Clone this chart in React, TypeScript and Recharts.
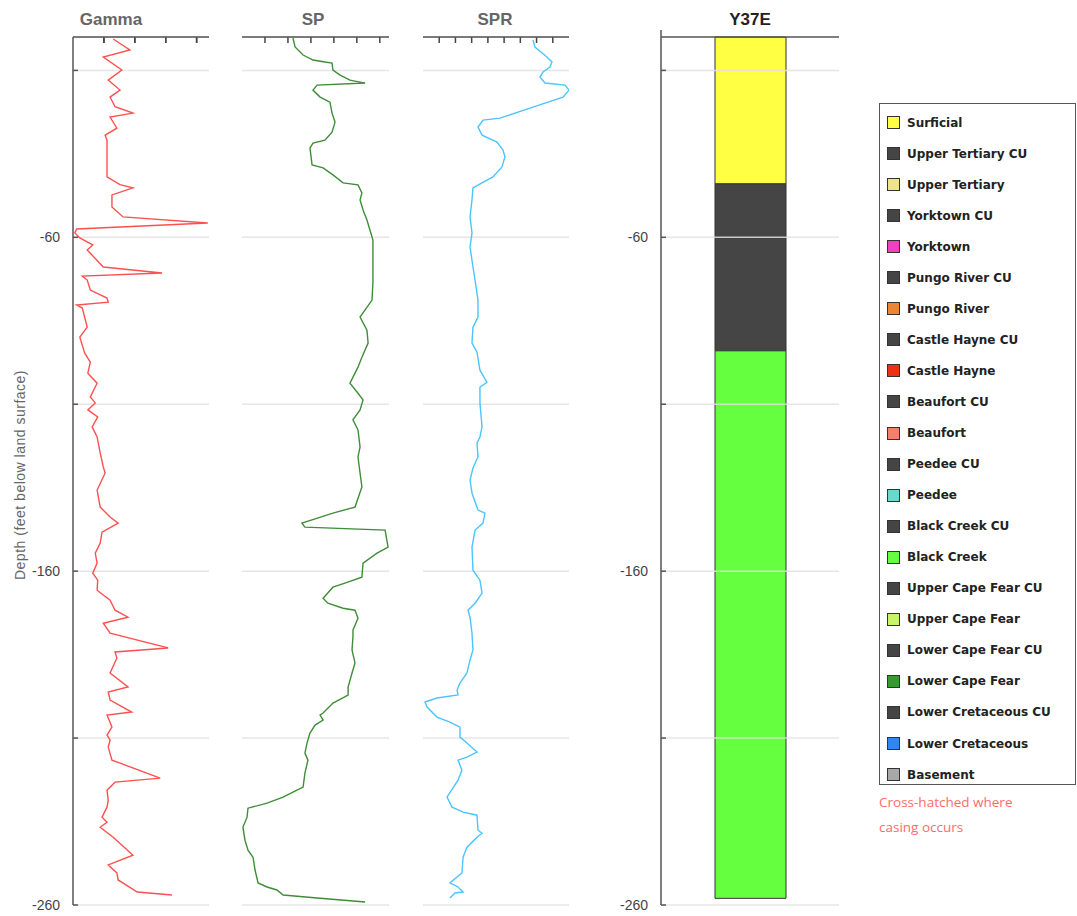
import { LineChart, Line, XAxis, YAxis, CartesianGrid, BarChart, Bar, ReferenceLine } from 'recharts';

const depthTicks = [-10, -60, -110, -160, -210, -260];
const labeledDepths = [-60, -160, -260];

const gammaDepths = [
  -0.6, -3.9, -6.0, -9.9, -12.9, -15.9, -18.0, -20.9, -22.8, -24.0, -27.3, -29.4, -30.9, -41.9, -44.2, -45.2,
  -47.3, -50.9, -53.9, -55.7, -57.5, -58.7, -60.2, -62.3, -63.8, -68.9, -70.7, -71.6, -72.8, -75.8, -78.2, -79.4,
  -80.3, -81.2, -86.9, -89.9, -94.7, -97.4, -100.7, -103.7, -107.8, -109.6, -111.7, -113.8, -116.8, -119.8, -124.6,
  -128.8, -130.6, -135.7, -140.8, -143.8, -145.6, -148.3, -151.6, -154.6, -157.6, -160.6, -162.7, -165.7, -168.7,
  -171.7, -173.8, -175.6, -178.6, -183.0, -184.2, -186.0, -190.5, -194.7, -196.2, -198.6, -202.2, -203.1, -206.7,
  -209.1, -210.6, -212.7, -216.6, -222.0, -223.2, -225.6, -228.6, -230.7, -233.7, -235.2, -236.7, -239.7, -245.1,
  -248.0, -250.4, -252.5, -256.1, -257.0,
];
const gammaValues = [
  65, 92, 49, 79, 57, 76, 60, 68, 97, 60, 71, 52, 55, 55, 76, 97,
  63, 63, 81, 218, 6, 3, 11, 32, 23, 49, 144, 15, 23, 28, 55, 57,
  6, 15, 23, 11, 19, 28, 24, 39, 28, 36, 24, 40, 31, 39, 44,
  49, 52, 39, 44, 60, 73, 47, 44, 36, 39, 32, 40, 39, 60,
  68, 89, 49, 60, 154, 68, 71, 60, 89, 57, 60, 95, 55, 63,
  55, 60, 57, 63, 141, 68, 55, 57, 55, 47, 55, 44, 65, 97,
  57, 71, 73, 104, 160,
];

const spDepths = [
  -0.3, -3.0, -5.4, -6.9, -7.5, -7.8, -9.9, -11.4, -12.9, -13.8, -14.4, -15.9, -18.0, -19.5, -22.8, -25.5,
  -28.5, -30.9, -31.8, -33.3, -38.3, -39.2, -41.3, -43.7, -44.3, -46.7, -48.8, -51.8, -54.8, -57.8, -60.8, -66.8,
  -73.7, -78.8, -83.9, -87.8, -91.7, -95.9, -98.9, -103.7, -106.7, -108.7, -111.7, -114.7, -117.7, -122.8, -125.8,
  -130.6, -134.8, -140.8, -142.6, -145.6, -146.8, -147.7, -152.8, -154.6, -157.6, -161.8, -163.6, -164.8, -168.1,
  -169.6, -171.1, -171.7, -174.1, -177.7, -179.7, -183.6, -187.5, -190.5, -194.7, -197.1, -199.5, -202.5, -203.1,
  -204.6, -206.1, -208.5, -211.5, -214.5, -216.6, -220.5, -224.7, -226.2, -227.7, -229.5, -231.0, -233.7, -236.7,
  -240.6, -243.6, -245.7, -249.6, -253.4, -254.6, -255.5, -257.0, -257.9, -259.1,
];
const spValues = [
  22.2, 23.1, 26.6, 30.9, 36.1, 39.2, 39.6, 42.7, 47.0, 53.6, 32.7, 30.9, 34.0, 38.3, 39.2, 40.5,
  39.2, 36.1, 30.9, 29.6, 30.5, 35.3, 39.6, 44.0, 50.5, 52.2, 51.4, 52.7, 54.4, 55.7, 57.0, 57.0,
  57.0, 56.6, 51.4, 54.4, 54.9, 52.2, 50.5, 47.0, 50.5, 52.7, 51.4, 48.3, 50.5, 51.4, 50.5,
  51.4, 52.2, 49.2, 39.6, 26.1, 27.4, 62.3, 63.6, 58.8, 52.7, 52.2, 44.8, 39.6, 35.3,
  37.4, 44.0, 49.2, 50.5, 48.3, 48.3, 47.9, 49.2, 47.9, 46.2, 46.2, 39.6, 35.3, 34.0,
  35.3, 31.8, 29.6, 28.3, 27.4, 28.7, 27.4, 26.6, 22.2, 17.9, 10.9, 2.6, 2.2, 0.4,
  1.3, 2.6, 4.8, 5.7, 7.0, 10.9, 15.2, 17.9, 32.7, 53.6,
];

const sprDepths = [
  -0.9, -3.0, -6.0, -7.5, -9.0, -10.5, -12.0, -13.8, -14.4, -15.9, -18.0, -21.0, -24.3, -24.9, -27.0, -29.4,
  -31.5, -33.9, -35.9, -38.9, -41.9, -43.7, -45.2, -48.8, -53.9, -58.7, -62.9, -68.9, -72.8, -78.8, -83.9, -86.9,
  -91.7, -94.4, -99.8, -103.4, -104.9, -109.6, -116.8, -119.8, -121.6, -125.8, -129.1, -132.7, -136.6, -141.7,
  -142.6, -145.6, -147.7, -152.8, -159.7, -162.7, -166.6, -169.6, -171.7, -173.8, -178.6, -183.6, -186.6, -190.5,
  -193.5, -195.6, -197.1, -198.0, -199.2, -200.7, -203.7, -205.2, -206.7, -209.7, -211.5, -214.2, -215.7, -216.6,
  -219.6, -222.6, -227.7, -230.7, -232.2, -233.1, -237.6, -238.5, -239.7, -242.7, -245.7, -250.4, -253.4, -254.6,
  -256.1, -256.4, -257.9,
];
const sprValues = [
  67.8, 69.0, 76.4, 79.5, 78.3, 74.0, 72.1, 75.2, 87.5, 90.0, 86.3, 67.8, 47.5, 37.0, 33.9, 36.4,
  45.6, 49.3, 50.5, 48.7, 43.1, 36.4, 30.8, 30.2, 29.0, 30.2, 29.0, 30.8, 32.1, 33.9, 33.9, 30.8,
  30.2, 33.3, 35.1, 39.4, 35.1, 35.1, 36.4, 35.1, 33.3, 33.9, 30.8, 29.0, 30.2, 33.9,
  38.2, 37.0, 32.1, 30.2, 30.8, 35.1, 36.4, 32.1, 27.7, 29.0, 30.2, 30.8, 29.0, 27.1,
  22.8, 21.0, 21.6, 8.6, 1.2, 2.5, 8.6, 16.6, 22.8, 22.8, 27.1, 33.3, 27.1, 21.6,
  24.0, 21.6, 14.8, 17.9, 24.7, 33.3, 33.9, 36.4, 33.3, 27.1, 24.7, 24.0, 16.6, 21.6,
  24.7, 19.7, 16.6,
];

const gammaTicks = [50, 100, 150, 200];
const spTicks = [10, 20, 30, 40, 50, 60];
const sprTicks = [10, 20, 30, 40, 50, 60, 70, 80];

const unitNames = ['Surficial', 'Black Creek CU', 'Black Creek'];
const unitTops = [0, -44, -94];
const unitBottoms = [-44, -94, -258];

const legendNames = [
  'Surficial', 'Upper Tertiary CU', 'Upper Tertiary', 'Yorktown CU', 'Yorktown', 'Pungo River CU', 'Pungo River',
  'Castle Hayne CU', 'Castle Hayne', 'Beaufort CU', 'Beaufort', 'Peedee CU', 'Peedee', 'Black Creek CU', 'Black Creek',
  'Upper Cape Fear CU', 'Upper Cape Fear', 'Lower Cape Fear CU', 'Lower Cape Fear', 'Lower Cretaceous CU',
  'Lower Cretaceous', 'Basement',
];

const CU = '#454545';
const unitColors: Record<string, string> = {
  Surficial: '#ffff44',
  'Upper Tertiary': '#eee58a',
  Yorktown: '#f23fc0',
  'Pungo River': '#ee8530',
  'Castle Hayne': '#ee3014',
  Beaufort: '#f2806c',
  Peedee: '#6ad8cc',
  'Black Creek': '#66ff40',
  'Upper Cape Fear': '#c8f568',
  'Lower Cape Fear': '#379a30',
  'Lower Cretaceous': '#3386f2',
  Basement: '#a8a8a8',
};
const colorOf = (n: string) => (n.endsWith(' CU') ? CU : unitColors[n]);

const AXIS = '#555';
const SANS = "'Liberation Sans', Arial, sans-serif";
// top-axis tick marks hang this many feet into the plot (about 6px)
const TICK_FT = 1.8;

const toRows = (depths: number[], values: number[]) => depths.map((depth, i) => ({ depth, value: values[i] }));
const gammaData = toRows(gammaDepths, gammaValues);
const spData = toRows(spDepths, spValues);
const sprData = toRows(sprDepths, sprValues);

const columnRow: Record<string, string | number> = { name: 'Y37E' };
unitNames.forEach((n, i) => {
  columnRow[n] = unitBottoms[i] - unitTops[i];
});
const columnData = [columnRow];

// inner tick on the depth axis, labels only on every other line;
// the 0 tick is drawn as the little upward stub at the top corner
function DepthTick(props: any) {
  const { x, y, payload, showLabel } = props;
  if (payload.value === 0) {
    return <line x1={x} x2={x} y1={y} y2={y - 7} stroke={AXIS} strokeWidth={1.5} />;
  }
  return (
    <g>
      <line x1={x} x2={x + 5} y1={y} y2={y} stroke={AXIS} strokeWidth={1.5} />
      {showLabel && labeledDepths.includes(payload.value) ? (
        <text x={x - 13} y={y + 5} textAnchor="end" fontSize={14} fill="#444" fontFamily={SANS}>
          {payload.value}
        </text>
      ) : null}
    </g>
  );
}

function CornerTick(props: any) {
  const { x, y } = props;
  return <line x1={x} x2={x} y1={y} y2={y - 6} stroke={AXIS} strokeWidth={1.5} />;
}

// extra layer that only carries the gamma top-axis tick marks
function GammaTickLayer() {
  return (
    <div style={{ position: 'absolute', left: 0, top: 0 }}>
      <LineChart width={215} height={916} data={gammaData} layout="vertical" margin={{ top: 37, right: 6, bottom: 11, left: 73 }}>
        <XAxis type="number" domain={[0, 220]} hide allowDataOverflow />
        <YAxis type="number" dataKey="depth" domain={[-260, 0]} reversed hide allowDataOverflow />
        {gammaTicks.map((t) => (
          <ReferenceLine key={t} segment={[{ x: t, y: 0 }, { x: t, y: -TICK_FT }]} stroke="#444" strokeWidth={1.5} />
        ))}
      </LineChart>
    </div>
  );
}

type PanelProps = {
  data: { depth: number; value: number }[];
  color: string;
  domain: [number, number];
  ticks: number[];
  left: number;
  width: number;
  marginLeft: number;
  yWidth: number;
  showLabels: boolean;
};

function LogPanel({ data, color, domain, ticks, left, width, marginLeft, yWidth, showLabels }: PanelProps) {
  return (
    <div style={{ position: 'absolute', left, top: 0 }}>
      <LineChart width={width} height={916} data={data} layout="vertical" margin={{ top: 36, right: 6, bottom: 11, left: marginLeft }}>
        <CartesianGrid vertical={false} stroke="#e6e6e6" strokeWidth={1.5} />
        <XAxis
          type="number"
          orientation="top"
          domain={domain}
          ticks={ticks}
          height={1}
          tick={false}
          tickLine={false}
          allowDataOverflow
          axisLine={{ stroke: AXIS, strokeWidth: 1.5 }}
        />
        <YAxis
          type="number"
          dataKey="depth"
          domain={[-260, 0]}
          reversed
          ticks={depthTicks}
          interval={0}
          width={yWidth}
          tickSize={0}
          tickMargin={0}
          tickLine={false}
          tick={<DepthTick showLabel={showLabels} />}
          axisLine={{ stroke: AXIS, strokeWidth: 1.5 }}
          allowDataOverflow
        />
        {ticks.map((t) => (
          <ReferenceLine
            key={t}
            segment={[{ x: t, y: 0 }, { x: t, y: -TICK_FT }]}
            stroke="#444"
            strokeWidth={1.5}
          />
        ))}
        <Line type="linear" dataKey="value" stroke={color} strokeWidth={1.4} dot={false} isAnimationActive={false} />
      </LineChart>
    </div>
  );
}

function Title({ text, cx, color }: { text: string; cx: number; color: string }) {
  return (
    <div
      style={{
        position: 'absolute', left: cx - 60, top: 10, width: 120, lineHeight: '20px', textAlign: 'center',
        fontFamily: SANS, fontWeight: 'bold', fontSize: 17, color,
      }}
    >
      {text}
    </div>
  );
}

export default function App() {
  return (
    <div style={{ position: 'absolute', left: 0, top: 0, width: 1077, height: 916, background: '#fff', overflow: 'hidden' }}>
      <GammaTickLayer />

      <Title text="Gamma" cx={111} color="#666" />
      <Title text="SP" cx={313} color="#666" />
      <Title text="SPR" cx={495} color="#666" />
      <Title text="Y37E" cx={750} color="#222" />

      <div
        style={{
          position: 'absolute', left: 20 - 160, top: 475 - 8, width: 320, height: 16, lineHeight: '16px', textAlign: 'center',
          transform: 'rotate(-90deg)', fontFamily: SANS, fontSize: 14, letterSpacing: 0.5, color: '#666', whiteSpace: 'nowrap',
        }}
      >
        Depth (feet below land surface)
      </div>

      <LogPanel data={gammaData} color="#ff5050" domain={[0, 220]} ticks={gammaTicks} left={0} width={215} marginLeft={0} yWidth={73} showLabels />
      <LogPanel data={spData} color="#3f8d38" domain={[0, 64]} ticks={spTicks} left={232} width={163} marginLeft={10} yWidth={0} showLabels={false} />
      <LogPanel data={sprData} color="#4cc4ff" domain={[0, 90]} ticks={sprTicks} left={413} width={162} marginLeft={10} yWidth={0} showLabels={false} />

      <div style={{ position: 'absolute', left: 600, top: 0 }}>
        <BarChart width={245} height={916} data={columnData} margin={{ top: 36, right: 6, bottom: 11, left: 0 }} barSize={71}>
          <XAxis
            dataKey="name"
            orientation="top"
            height={1}
            tick={false}
            tickLine={false}
            axisLine={{ stroke: AXIS, strokeWidth: 1.5 }}
          />
          <YAxis
            type="number"
            domain={[-260, 0]}
            ticks={[0, ...depthTicks]}
            interval={0}
            width={61}
            tickSize={0}
            tickMargin={0}
            tickLine={false}
            tick={<DepthTick showLabel />}
            axisLine={{ stroke: AXIS, strokeWidth: 1.5 }}
          />
          <YAxis
            yAxisId="corner"
            orientation="right"
            type="number"
            domain={[-260, 0]}
            ticks={[0]}
            interval={0}
            width={0}
            tickSize={0}
            tickMargin={0}
            tickLine={false}
            axisLine={false}
            tick={<CornerTick />}
          />
          {unitNames.map((n) => (
            <Bar key={n} dataKey={n} stackId="col" fill={colorOf(n)} stroke="#333" strokeWidth={1} isAnimationActive={false} />
          ))}
          {depthTicks.map((d) => (
            <ReferenceLine key={d} y={d} stroke="#e2e2e2" strokeOpacity={0.85} strokeWidth={1.5} />
          ))}
        </BarChart>
      </div>

      <div
        style={{
          position: 'absolute', left: 879, top: 103, width: 197, height: 682, border: '1.5px solid #555',
          boxSizing: 'border-box', background: '#fff',
        }}
      >
        {legendNames.map((n, i) => (
          <div
            key={n}
            style={{
              position: 'absolute', left: 7, top: 3 + i * 31.05, height: 31, display: 'flex', alignItems: 'center',
              whiteSpace: 'nowrap',
            }}
          >
            <span
              style={{
                display: 'inline-block', width: 11, height: 11, background: colorOf(n), border: '1px solid #333', marginRight: 7,
              }}
            />
            <span style={{ fontFamily: "'DejaVu Sans', sans-serif", fontWeight: 'bold', fontSize: 12, color: '#222' }}>{n}</span>
          </div>
        ))}
      </div>

      <div style={{ position: 'absolute', left: 879, top: 790, fontFamily: "'Open Sans', sans-serif", fontSize: 13.5, lineHeight: '25px', color: '#ff6b6b' }}>
        Cross-hatched where
        <br />
        casing occurs
      </div>
    </div>
  );
}
